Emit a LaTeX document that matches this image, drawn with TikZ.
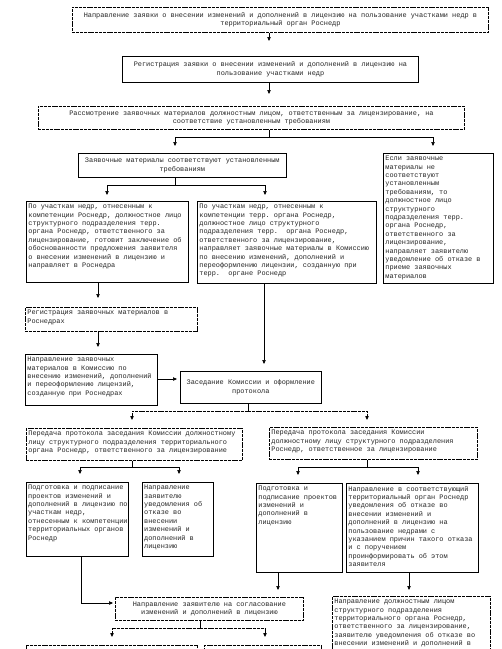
\documentclass[tikz,border=0pt]{standalone}
\usepackage{fontspec}
\setmainfont{Liberation Mono}
\usetikzlibrary{arrows.meta}
\frenchspacing
\tikzset{
  box/.style={draw, line width=0.6pt, inner sep=0pt, anchor=north west},
  dbox/.style={box, line width=0.9pt, dash pattern=on 3pt off 0.8pt},
  txt/.style={font=\fontsize{6.9}{8.4}\selectfont, text=black!85, align=left, inner sep=0pt, anchor=north west},
  ctxt/.style={font=\fontsize{6.9}{8.4}\selectfont, text=black!85, align=center, inner sep=0pt},
  conn/.style={line width=0.6pt},
  dconn/.style={line width=0.9pt, dash pattern=on 3pt off 0.8pt},
  arr/.style={conn, -{Triangle[width=3.4pt,length=4pt]}},
  darr/.style={dconn, -{Triangle[width=3.4pt,length=4pt]}},
}
\begin{document}
\begin{tikzpicture}[x=1pt,y=-1pt]
\useasboundingbox (0,0) rectangle (502,649);
\clip (0,0) rectangle (502,649);
\fill[white] (0,0) rectangle (502,649);

% boxes
\node[dbox, minimum width=416pt, minimum height=25pt] (b1) at (72,7) {};
\node[ctxt] (t1) at (b1.center) {Направление заявки о внесении изменений и дополнений в лицензию на пользование участками недр в\\территориальный орган Роснедр};

\node[box, line width=0.9pt, minimum width=296pt, minimum height=26pt] (b2) at (122,56) {};
\node[ctxt] (t2) at (b2.center) {Регистрация заявки о внесении изменений и дополнений в лицензию на\\пользование участками недр};

\node[dbox, minimum width=426pt, minimum height=23pt] (b3) at (38,106) {};
\node[ctxt] (t3) at (b3.center) {Рассмотрение заявочных материалов должностным лицом, ответственным за лицензирование, на\\соответствие установленным требованиям};

\node[box, minimum width=208pt, minimum height=24pt] (b4) at (78,153) {};
\node[ctxt] (t4) at (b4.center) {Заявочные материалы соответствуют установленным\\требованиям};

\node[box, minimum width=162pt, minimum height=81pt] (b5) at (26,201) {};
\node[txt] (t5) at ([xshift=2.2pt,yshift=-3pt]b5.north west) {По участкам недр, отнесенным к\\компетенции Роснедр, должностное лицо\\структурного подразделения терр.\\органа Роснедр, ответственного за\\лицензирование, готовит заключение об\\обоснованности предложения заявителя\\о внесении изменений в лицензию и\\направляет в Роснедра};

\node[box, minimum width=179pt, minimum height=82pt] (b6) at (197,201) {};
\node[txt] (t6) at ([xshift=2.2pt,yshift=-3pt]b6.north west) {По участкам недр, отнесенным к\\компетенции терр. органа Роснедр,\\должностное лицо структурного\\подразделения терр.\ \ органа Роснедр,\\ответственного за лицензирование,\\направляет заявочные материалы в Комиссию\\по внесению изменений, дополнений и\\переоформлению лицензии, созданную при\\терр.\ \ органе Роснедр};

\node[box, minimum width=110pt, minimum height=130pt] (b7) at (383,153) {};
\node[txt] (t7) at ([xshift=2.2pt,yshift=-3pt]b7.north west) {Если заявочные\\материалы не\\соответствуют\\установленным\\требованиям, то\\должностное лицо\\структурного\\подразделения терр.\\органа Роснедр,\\ответственного за\\лицензирование,\\направляет заявителю\\уведомление об отказе в\\приеме заявочных\\материалов};

\node[dbox, minimum width=172pt, minimum height=24pt] (b8) at (25,307) {};
\node[txt] (t8) at ([xshift=2.2pt,yshift=-3pt]b8.north west) {Регистрация заявочных материалов в\\Роснедрах};

\node[box, line width=0.9pt, minimum width=132pt, minimum height=51pt] (b9) at (25,354) {};
\node[txt] (t9) at ([xshift=2.2pt,yshift=-3pt]b9.north west) {Направление заявочных\\материалов в Комиссию по\\внесению изменений, дополнений\\и переоформлению лицензий,\\созданную при Роснедрах};

\node[box, minimum width=141pt, minimum height=32pt] (b10) at (180,371) {};
\node[ctxt] (t10) at (b10.center) {Заседание Комиссии и оформление\\протокола};

\node[dbox, minimum width=216pt, minimum height=32pt] (b11) at (26,428) {};
\node[txt] (t11) at ([xshift=2.2pt,yshift=-3pt]b11.north west) {Передача протокола заседания Комиссии должностному\\лицу структурного подразделения территориального\\органа Роснедр, ответственного за лицензирование};

\node[dbox, minimum width=208pt, minimum height=32pt] (b12) at (269,427) {};
\node[txt] (t12) at ([xshift=2.2pt,yshift=-3pt]b12.north west) {Передача протокола заседания Комиссии\\должностному лицу структурного подразделения\\Роснедр, ответственное за лицензирование};

\node[box, minimum width=102pt, minimum height=74pt] (b13) at (26,482) {};
\node[txt] (t13) at ([xshift=2pt,yshift=-3pt]b13.north west) {Подготовка и подписание\\проектов изменений и\\дополнений в лицензию по\\участкам недр,\\отнесенным к компетенции\\территориальных органов\\Роснедр};

\node[box, minimum width=71pt, minimum height=74pt] (b14) at (142,482) {};
\node[txt] (t14) at ([xshift=2pt,yshift=-3pt]b14.north west) {Направление\\заявителю\\уведомления об\\отказе во\\внесении\\изменений и\\дополнений в\\лицензию};

\node[box, minimum width=86pt, minimum height=89pt] (b15) at (256,483) {};
\node[txt] (t15) at ([xshift=2.2pt,yshift=-3pt]b15.north west) {Подготовка и\\подписание проектов\\изменений и\\дополнений в\\лицензию};

\node[box, minimum width=132pt, minimum height=89pt] (b16) at (346,483) {};
\node[txt] (t16) at ([xshift=2.2pt,yshift=-3pt]b16.north west) {Направление в соответствующий\\территориальный орган Роснедр\\уведомления об отказе во\\внесении изменений и\\дополнений в лицензию на\\пользование недрами с\\указанием причин такого отказа\\и с поручением\\проинформировать об этом\\заявителя};

\node[dbox, minimum width=188pt, minimum height=23pt] (b17) at (115,597) {};
\node[ctxt] (t17) at (b17.center) {Направление заявителю на согласование\\изменений и дополнений в лицензию};

\node[dbox, minimum width=158pt, minimum height=90pt] (b18) at (332,596) {};
\node[txt] (t18) at ([xshift=2.2pt,yshift=-3pt]b18.north west) {Направление должностным лицом\\структурного подразделения\\территориального органа Роснедр,\\ответственного за лицензирование,\\заявителю уведомления об отказе во\\внесении изменений и дополнений в};

\node[dbox, minimum width=171pt, minimum height=60pt] (b19) at (26,645) {};
\node[dbox, minimum width=117pt, minimum height=60pt] (b20) at (204,645) {};

% connector points
\coordinate (c1) at (269,41);
\coordinate (c2) at (269,94);
\coordinate (j3) at (269,137);
\coordinate (c3a) at (175,146);
\coordinate (c3b) at (433,146);
\coordinate (j4) at (175,185);
\coordinate (c4a) at (107,195);
\coordinate (c4b) at (265,195);
\coordinate (c5) at (98,298);
\coordinate (c8) at (98,347);
\coordinate (c9) at (177,379);
\coordinate (c6) at (264,364);
\coordinate (j10) at (248,411);
\coordinate (c10a) at (132,420);
\coordinate (c10b) at (367,420);
\coordinate (j11) at (132,467);
\coordinate (c11a) at (80,474);
\coordinate (c11b) at (179,474);
\coordinate (j12) at (367,467);
\coordinate (c12a) at (298,475);
\coordinate (c12b) at (418,475);
\coordinate (k13) at (81,603);
\coordinate (c13) at (113,603);
\coordinate (c15) at (278,590);
\coordinate (c16) at (409,590);
\coordinate (j17) at (200,628);
\coordinate (c17a) at (112,637);
\coordinate (c17b) at (265,637);

% connectors
\draw[arr] (b1.south -| c1) -- (c1);
\draw[arr] (b2.south -| c2) -- (c2);
\draw[conn] (b3.south -| j3) -- (j3);
\draw[arr] (j3) -| (c3a);
\draw[arr] (j3) -| (c3b);
\draw[conn] (b4.south -| j4) -- (j4);
\draw[arr] (j4) -| (c4a);
\draw[arr] (j4) -| (c4b);
\draw[arr] (b5.south -| c5) -- (c5);
\draw[arr] (b8.south -| c8) -- (c8);
\draw[arr] (b9.east |- c9) -- (c9);
\draw[arr] (b6.south -| c6) -- (c6);
\draw[conn] (b10.south -| j10) -- (j10);
\draw[darr] (j10) -| (c10a);
\draw[darr] (j10) -| (c10b);
\draw[conn] (b11.south -| j11) -- (j11);
\draw[arr] (j11) -| (c11a);
\draw[arr] (j11) -| (c11b);
\draw[conn] (b12.south -| j12) -- (j12);
\draw[arr] (j12) -| (c12a);
\draw[arr] (j12) -| (c12b);
\draw[arr] (b13.south -| k13) -- (k13) -- (c13);
\draw[arr] (b15.south -| c15) -- (c15);
\draw[arr] (b16.south -| c16) -- (c16);
\draw[conn] (b17.south -| j17) -- (j17);
\draw[darr] (j17) -| (c17a);
\draw[darr] (j17) -| (c17b);
\end{tikzpicture}
\end{document}
